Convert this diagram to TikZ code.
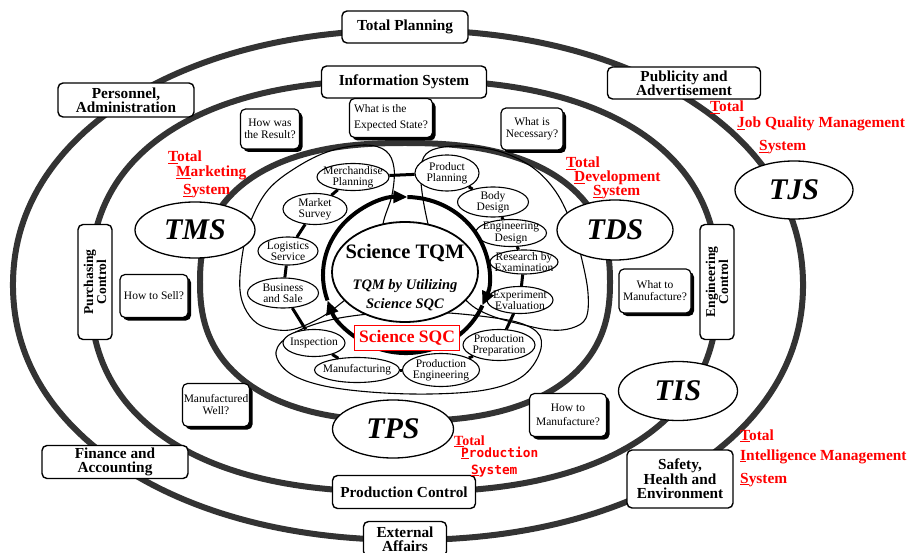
\documentclass[tikz,border=0pt]{standalone}
\usepackage{fontspec}
\setmainfont{Liberation Serif}
\newfontfamily\gothicfont{DejaVu Sans Mono}
\usetikzlibrary{shapes.geometric,arrows.meta,shadows}

% first letter of a word with a heavy underline
\newcommand\firstul[1]{\setbox0\hbox{#1}\rlap{\rule[-2.4pt]{\wd0}{1.4pt}}#1}

\begin{document}
\begin{tikzpicture}[x=1pt,y=-1pt,
  ring/.style={line width=6pt, draw=black!80},
  plan/.style={draw, line width=1.4pt, rounded corners=5pt, fill=white, align=center,
    inner sep=0pt, font=\bfseries\fontsize{15.3}{14}\selectfont},
  vplan/.style={plan, rotate=90, minimum width=115pt, minimum height=34pt,
    font=\bfseries\fontsize{13.5}{13}\selectfont},
  ask/.style={draw, line width=1.2pt, rounded corners=5pt, fill=white, align=center,
    inner sep=0pt, font=\fontsize{11.5}{12}\selectfont,
    drop shadow={shadow xshift=3pt, shadow yshift=-3pt, opacity=1, fill=black}},
  sys/.style={ellipse, draw, line width=1.3pt, fill=white, inner sep=0pt,
    font=\bfseries\itshape\fontsize{30}{30}\selectfont},
  task/.style={ellipse, draw, line width=1.1pt, fill=white, inner sep=0pt},
  tasktext/.style={align=center, inner sep=0pt, font=\fontsize{11.5}{11.3}\selectfont},
  lobe/.style={line width=1.1pt},
  chain/.style={line width=3pt},
  cycle arc/.style={line width=4pt, -{Triangle[length=14pt,width=12pt]}},
  redlabel/.style={anchor=base west, inner sep=0pt, text=red,
    font=\bfseries\fontsize{15.4}{15.4}\selectfont},
  gothlabel/.style={anchor=base west, inner sep=0pt, text=red,
    font=\gothicfont\bfseries\fontsize{12.8}{12.8}\selectfont},
]
\fill[white] (0,0) rectangle (912,553);
\useasboundingbox (0,0) rectangle (912,553);

% three organisational rings
\draw[ring] plot[variable=\t, domain=0:360, samples=241]
  ({408+395*cos(\t)*pow(abs(cos(\t))+0.001,-0.0476)},
   {285+255*sin(\t)*pow(abs(sin(\t))+0.001,-0.0476)}) -- cycle;
\draw[ring] plot[variable=\t, domain=0:360, samples=241]
  ({404+314*cos(\t)*pow(abs(cos(\t))+0.001,-0.1667)},
   {286+206*sin(\t)*pow(abs(sin(\t))+0.001,-0.1667)}) -- cycle;
\draw[ring] plot[variable=\t, domain=0:360, samples=241]
  ({405+205*cos(\t)*pow(abs(cos(\t))+0.001,-0.1667)},
   {282+139*sin(\t)*pow(abs(sin(\t))+0.001,-0.1667)}) -- cycle;

% lobes grouping the core tasks of TMS, TDS and TPS
\draw[lobe] plot[smooth cycle, tension=0.6] coordinates {(383,224) (392,195) (394,168)
  (386,151) (365,145) (330,151) (297,167) (268,190) (250,223) (242,257) (240,290)
  (247,312) (262,326) (290,330) (320,318) (345,300) (368,280) (382,252)};
\draw[lobe] plot[smooth cycle, tension=0.6] coordinates {(428,224) (422,192) (421,166)
  (430,151) (458,146) (498,151) (532,167) (556,192) (572,225) (582,260) (588,293)
  (586,318) (572,328) (550,330) (520,324) (492,316) (470,304) (450,280) (436,252)};
\draw[lobe] plot[smooth cycle, tension=0.6] coordinates {(276,352) (292,334) (330,320)
  (380,313) (430,312) (480,316) (520,323) (540,336) (538,357) (520,378) (485,390)
  (430,394) (370,392) (320,385) (288,372)};

% core tasks
\node[task, minimum width=72pt, minimum height=27pt] (merch) at (353,177) {};
\node[task, minimum width=64pt, minimum height=36pt] (prodplan) at (447,173) {};
\node[task, minimum width=64pt, minimum height=31pt] (market) at (315,209) {};
\node[task, minimum width=71pt, minimum height=30pt] (body) at (493,202) {};
\node[task, minimum width=60pt, minimum height=28pt] (logist) at (288,251) {};
\node[task, minimum width=71pt, minimum height=27pt] (engdes) at (511,233) {};
\node[task, minimum width=68pt, minimum height=24pt] (research) at (524,262) {};
\node[task, minimum width=71pt, minimum height=30pt] (business) at (283,293) {};
\node[task, minimum width=66pt, minimum height=27pt] (experiment) at (520,300) {};
\node[task, minimum width=62pt, minimum height=27pt] (inspect) at (314,343) {};
\node[task, minimum width=72pt, minimum height=31pt] (prodprep) at (499,345) {};
\node[task, minimum width=85pt, minimum height=25pt] (manuf) at (357,370) {};
\node[task, minimum width=77pt, minimum height=33pt] (prodeng) at (441,370) {};

\node[tasktext] (merch-t) at (merch) {Merchandise\\Planning};
\node[tasktext] (prodplan-t) at (prodplan) {Product\\Planning};
\node[tasktext] (market-t) at (market) {Market\\Survey};
\node[tasktext] (body-t) at (body) {Body\\Design};
\node[tasktext] (logist-t) at (logist) {Logistics\\Service};
\node[tasktext] (engdes-t) at (engdes) {Engineering\\Design};
\node[tasktext] (research-t) at (research) {Research by\\Examination};
\node[tasktext] (business-t) at (business) {Business\\and Sale};
\node[tasktext] (experiment-t) at (experiment) {Experiment\\Evaluation};
\node[tasktext] (inspect-t) at (inspect) {Inspection};
\node[tasktext] (prodprep-t) at (prodprep) {Production\\Preparation};
\node[tasktext] (manuf-t) at (manuf) {Manufacturing};
\node[tasktext] (prodeng-t) at (prodeng) {Production\\Engineering};

\draw[chain] (merch) -- (prodplan);
\draw[chain] (merch) -- (market);
\draw[chain] (market) -- (logist);
\draw[chain] (logist) -- (business);
\draw[chain] (business) -- (inspect);
\draw[chain] (inspect) -- (manuf);
\draw[chain] (manuf) -- (prodeng);
\draw[chain] (prodeng) -- (prodprep);
\draw[chain] (prodprep) -- (experiment);
\draw[chain] (experiment) -- (research);
\draw[chain] (research) -- (engdes);
\draw[chain] (engdes) -- (body);
\draw[chain] (body) -- (prodplan);

% management cycle around the core
\coordinate (cyc-left) at (327.5,300.4);
\coordinate (cyc-top) at (407.4,197.0);
\coordinate (cyc-right) at (482.4,305.5);
\draw[cycle arc] (cyc-left) arc[start angle=161, end angle=271, x radius=83, y radius=78];
\draw[cycle arc] (cyc-top) arc[start angle=271, end angle=383, x radius=83, y radius=78];
\draw[cycle arc] (cyc-right) arc[start angle=383, end angle=521, x radius=83, y radius=78];

\node[ellipse, draw, line width=1.8pt, fill=white, inner sep=0pt,
  minimum width=146pt, minimum height=100pt] (tqm) at (405,272) {};
\node[font=\bfseries\fontsize{20.5}{20.5}\selectfont, inner sep=0pt] (tqm-title)
  at (405,253) {Science TQM};
\node[font=\bfseries\itshape\fontsize{14.5}{19}\selectfont, align=center, inner sep=0pt]
  (tqm-sub) at (405,295) {TQM by Utilizing\\Science SQC};
\node[draw=red, line width=1.3pt, fill=white, text=red, inner sep=0pt,
  minimum width=105pt, minimum height=25pt,
  font=\bfseries\fontsize{17.5}{17.5}\selectfont] (sqc) at (407,338) {Science SQC};

% systems
\node[sys, minimum width=120pt, minimum height=56pt] (tms) at (195,230) {TMS};
\node[sys, minimum width=116pt, minimum height=60pt] (tds) at (615,230) {TDS};
\node[sys, minimum width=118pt, minimum height=58pt] (tjs) at (794,190) {TJS};
\node[sys, minimum width=119pt, minimum height=59pt] (tis) at (678,391) {TIS};
\node[sys, minimum width=121pt, minimum height=58pt] (tps) at (393,429) {TPS};

% functions on the rings
\node[plan, minimum width=126pt, minimum height=32pt] (planning) at (405,27) {Total Planning};
\node[plan, minimum width=165pt, minimum height=32pt] (info) at (404,82) {Information System};
\node[plan, minimum width=136pt, minimum height=34pt] (personnel) at (126,100) {Personnel,\\Administration};
\node[plan, minimum width=153pt, minimum height=32pt] (publicity) at (684,83) {Publicity and\\Advertisement};
\node[vplan] (purchasing) at (95,282) {Purchasing\\Control};
\node[vplan] (engineering) at (717,282) {Engineering\\Control};
\node[plan, minimum width=146pt, minimum height=33pt] (finance) at (115,462) {Finance and\\Accounting};
\node[plan, minimum width=143pt, minimum height=33pt] (prodctrl) at (404,492) {Production Control};
\node[plan, minimum width=83pt, minimum height=35pt] (external) at (405,539) {External\\Affairs};
\node[plan, minimum width=106pt, minimum height=58pt,
  font=\bfseries\fontsize{15.3}{13.8}\selectfont] (safety) at (680,479) {Safety,\\Health and\\Environment};

% guiding questions
\node[ask, minimum width=59pt, minimum height=40pt] (result) at (270,129) {How was\\the Result?};
\node[ask, minimum width=83pt, minimum height=39pt, align=left,
  font=\fontsize{11.5}{16}\selectfont] (expected) at (391,118) {What is the\\Expected State?};
\node[ask, minimum width=62pt, minimum height=42pt] (necessary) at (532,129) {What is\\Necessary?};
\node[ask, minimum width=68pt, minimum height=43pt] (sell) at (154,296) {How to Sell?};
\node[ask, minimum width=72pt, minimum height=44pt] (whatmanu) at (655,291) {What to\\Manufacture?};
\node[ask, minimum width=67pt, minimum height=43pt] (wellmanu) at (216,405) {Manufactured\\Well?};
\node[ask, minimum width=77pt, minimum height=43pt,
  font=\fontsize{11.5}{14}\selectfont] (howmanu) at (568,415) {How to\\Manufacture?};

% system names
\node[redlabel] (tms-l1) at (168,162) {\firstul{T}otal};
\node[redlabel] (tms-l2) at (176,177) {\firstul{M}arketing};
\node[redlabel] (tms-l3) at (183,195) {\firstul{S}ystem};
\node[redlabel] (tds-l1) at (566,168) {\firstul{T}otal};
\node[redlabel] (tds-l2) at (574,182) {\firstul{D}evelopment};
\node[redlabel] (tds-l3) at (593,196) {\firstul{S}ystem};
\node[redlabel] (tjs-l1) at (710,112) {\firstul{T}otal};
\node[redlabel] (tjs-l2) at (737,128) {\firstul{J}ob Quality Management};
\node[redlabel] (tjs-l3) at (759,151) {\firstul{S}ystem};
\node[redlabel] (tis-l1) at (740,440) {\firstul{T}otal};
\node[redlabel] (tis-l2) at (740,460) {\firstul{I}ntelligence Management};
\node[redlabel] (tis-l3) at (740,483) {\firstul{S}ystem};
\node[redlabel, font=\bfseries\fontsize{14}{14}\selectfont] (tps-l1) at (454,445) {\firstul{T}otal};
\node[gothlabel] (tps-l2) at (461,457) {\firstul{P}roduction};
\node[gothlabel] (tps-l3) at (471,474) {\firstul{S}ystem};
\end{tikzpicture}
\end{document}
